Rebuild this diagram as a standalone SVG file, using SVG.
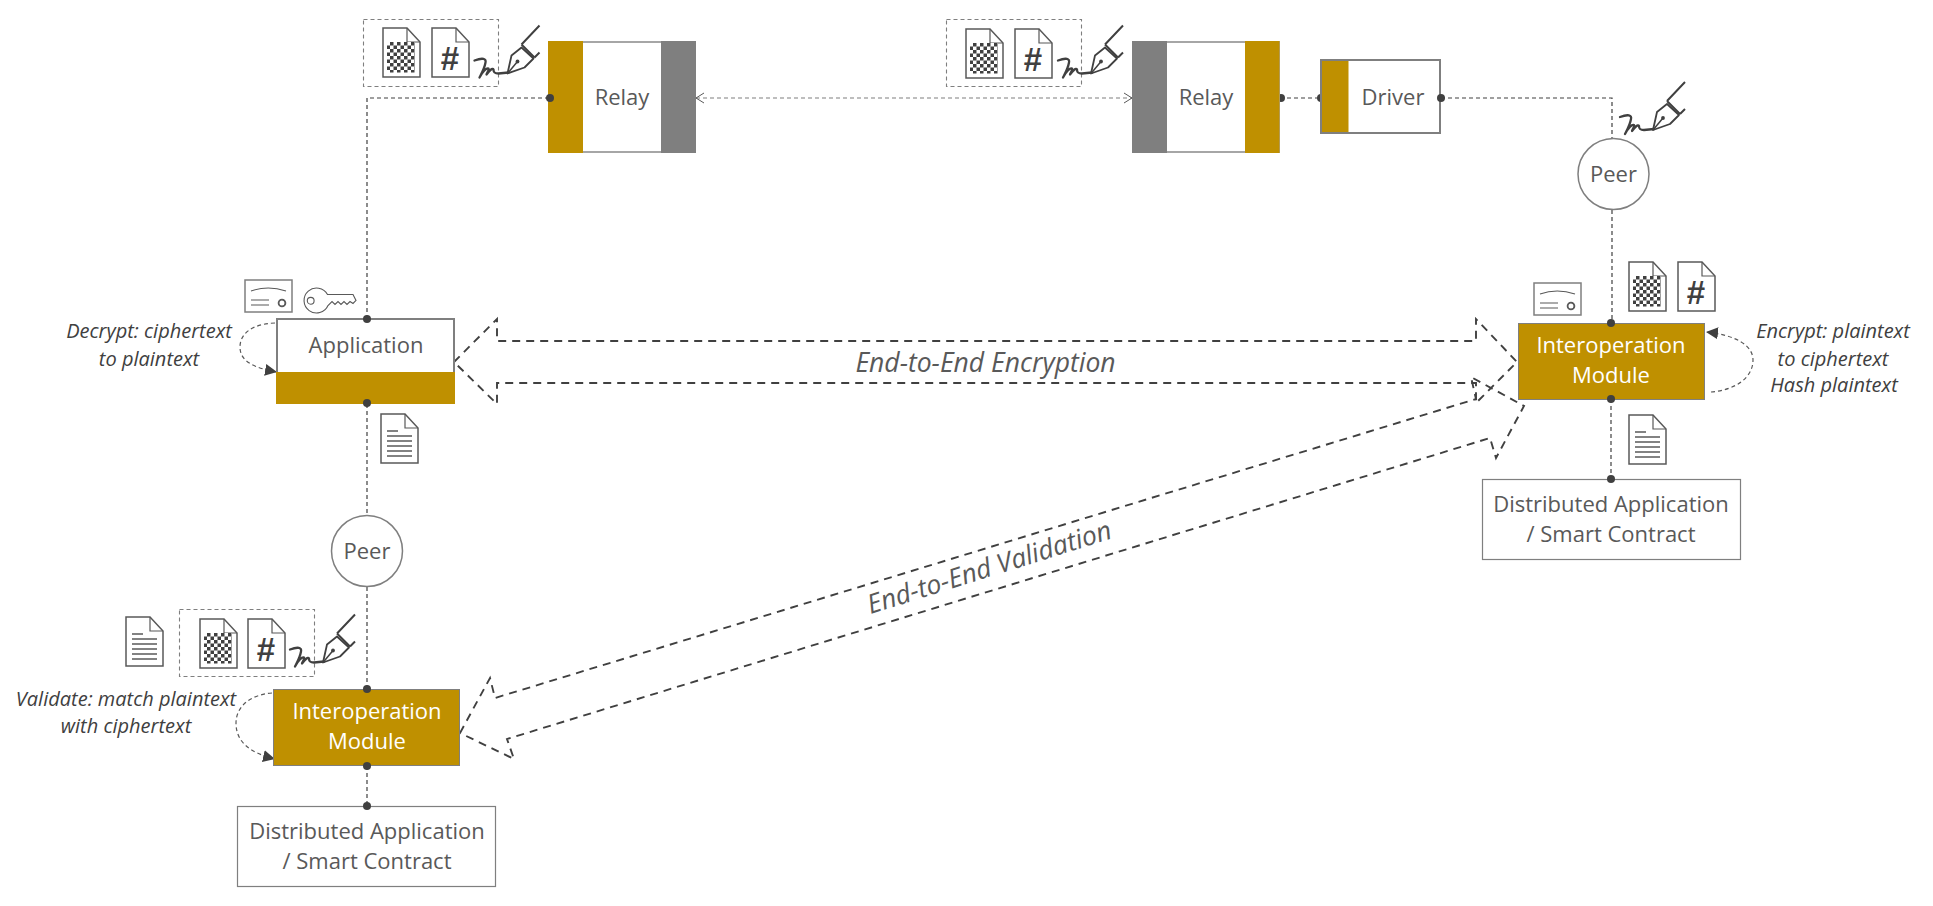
<svg xmlns="http://www.w3.org/2000/svg" width="1933" height="906" viewBox="0 0 1933 906">
<style>
text{font-family:"Open Sans","Noto Sans","Liberation Sans",sans-serif;text-anchor:middle}
.lbl{font-size:22px;fill:#595959}
.wht{font-size:22px;fill:#fff}
.it{font-size:20px;fill:#404040;font-style:italic}
.big{font-size:26.5px;fill:#595959;font-style:italic}
.gold{fill:#BF9000}
.grey{fill:#7F7F7F}
.fine{fill:none;stroke:#404040;stroke-width:1.2;stroke-dasharray:4 3}
.loop{fill:none;stroke:#595959;stroke-width:1.2;stroke-dasharray:4 3}
.bigline{fill:none;stroke:#404040;stroke-width:1.9;stroke-dasharray:8 6}
.dot{fill:#404040}
.ink{fill:none;stroke:#595959;stroke-width:1.4}
.dk{fill:none;stroke:#404040;stroke-width:2.3;stroke-linecap:round;stroke-linejoin:round}
.box{fill:none;stroke:#7F7F7F;stroke-width:1.1;stroke-dasharray:4 3}
</style>
<defs>
<pattern id="chk" width="7" height="7" patternUnits="userSpaceOnUse">
<rect width="7" height="7" fill="#fff"/><rect width="3.5" height="3.5" fill="#404040"/><rect x="3.5" y="3.5" width="3.5" height="3.5" fill="#404040"/>
</pattern>
<marker id="tri" markerUnits="userSpaceOnUse" markerWidth="14" markerHeight="14" refX="12" refY="7" orient="auto"><path d="M0,1 L12,7 L0,13 Z" fill="#404040"/></marker>
<marker id="open" markerUnits="userSpaceOnUse" markerWidth="12" markerHeight="12" refX="10" refY="6" orient="auto-start-reverse"><path d="M2,1 L10,6 L2,11" fill="none" stroke="#595959" stroke-width="1"/></marker>
<g id="page"><path d="M0,0H24L37,14V49H0Z" fill="#fff" stroke="#595959" stroke-width="1.5"/><path d="M24,0V14H37" fill="none" stroke="#595959" stroke-width="1.2"/></g>
<g id="docEnc"><use href="#page"/><rect x="4" y="14" width="28" height="30.5" fill="url(#chk)"/></g>
<g id="docHash"><use href="#page"/><text x="18" y="42" style="font-family:'Liberation Sans',sans-serif;font-size:33px;font-weight:700;fill:#404040">#</text></g>
<g id="docText"><use href="#page"/><path d="M6,17H17M6,22H31M6,27H31M6,32H31M6,37H31M6,42H31" class="ink"/></g>
<g id="cert"><rect x="0" y="0" width="47" height="32" fill="#fff" stroke="#7F7F7F" stroke-width="1.5"/><path d="M6,11Q23,5 41,11M6,20H24M6,25H24" fill="none" stroke="#595959" stroke-width="1.1"/><circle cx="37" cy="23" r="3.4" fill="none" stroke="#595959" stroke-width="1.8"/></g>
<g id="key"><path d="M24.5,6H50L53,12L50,15L47,13L44,16L41,13L38,16L35,13L32,16L29,13L25,17A12.5,12.5 0 1 1 24.5,6Z" fill="#fff" stroke="#595959" stroke-width="1.1"/><circle cx="7.7" cy="12.3" r="3.4" fill="none" stroke="#595959" stroke-width="1.1"/></g>
<g id="sign"><path d="M0,0C8,-3 12,-2 11,2C10,8 7,13 5,17C8,11 12,7 14,8C15,9 12,13 12,14C15,10 18,7 19,9C19,12 20,13 24,13L34,12" class="dk"/><path d="M33,13L37,-5L47,-13L59,-2L50,7Z" fill="#fff" stroke="#404040" stroke-width="1.8" stroke-linejoin="round"/><path d="M33,13L43,1" fill="none" stroke="#404040" stroke-width="1.5"/><circle cx="43" cy="1" r="1.9" fill="#404040"/><path d="M47,-16L60,-3M47,-16L65,-35M60,-3L65,-8" fill="none" stroke="#404040" stroke-width="2"/></g>
</defs>
<rect width="1933" height="906" fill="#fff"/>

<g id="connectors">
<path class="fine" d="M367,319V98H550"/>
<path d="M696,98H1132" fill="none" stroke="#7F7F7F" stroke-width="1.2" stroke-dasharray="4 3" marker-start="url(#open)" marker-end="url(#open)"/>
<path class="fine" d="M1280,98H1321"/>
<path class="fine" d="M1441,98H1612V138"/>
<path class="fine" d="M1612,210V323"/>
<path class="fine" d="M1611,399V479"/>
<path class="fine" d="M367,404V515"/>
<path class="fine" d="M367,587V689"/>
<path class="fine" d="M367,766V806"/>
<path class="bigline" d="M454,362L497,319V341H1476V319L1517,362L1476,403V383H497V404Z"/>
<path class="bigline" d="M460,733L490,678L495,698L1476,399L1471,377L1524,406L1496,458L1490,438L507,739L514,759Z"/>
<path class="loop" marker-end="url(#tri)" d="M275,323C250,324 240,335 240,347C240,362 255,368 277,372"/>
<path class="loop" marker-end="url(#tri)" d="M1711,392C1735,390 1753,378 1753,360C1753,345 1735,335 1706,332"/>
<path class="loop" marker-end="url(#tri)" d="M272,693C248,695 236,708 236,723C236,742 250,753 275,759"/>
<circle class="dot" cx="1281" cy="98" r="4"/>
<circle class="dot" cx="1321" cy="98" r="4"/>
</g>

<g id="relay-left"><rect x="549" y="42" width="146" height="110" fill="#fff" stroke="#A6A6A6" stroke-width="2"/><rect class="gold" x="548" y="41" width="35" height="112"/><rect class="grey" x="661" y="41" width="35" height="112"/><text class="lbl" x="622" y="105">Relay</text><circle class="dot" cx="550" cy="98" r="4"/></g>
<g id="relay-right"><rect x="1133" y="42" width="146" height="110" fill="#fff" stroke="#A6A6A6" stroke-width="2"/><rect class="grey" x="1132" y="41" width="35" height="112"/><rect class="gold" x="1245" y="41" width="34.500" height="112"/><text class="lbl" x="1206" y="105">Relay</text></g>
<g id="driver"><rect x="1321" y="60" width="119" height="73" fill="#fff" stroke="#7F7F7F" stroke-width="2"/><rect class="gold" x="1322" y="61" width="26.500" height="71"/><text class="lbl" x="1393" y="105">Driver</text><circle class="dot" cx="1441" cy="98" r="4"/></g>
<g id="peer-right"><circle cx="1613.500" cy="174" r="35.500" fill="#fff" stroke="#7F7F7F" stroke-width="1.5"/><text class="lbl" x="1613.500" y="182">Peer</text></g>
<g id="peer-left"><circle cx="367" cy="551" r="35.500" fill="#fff" stroke="#7F7F7F" stroke-width="1.5"/><text class="lbl" x="367" y="559">Peer</text></g>

<g id="application"><rect x="277" y="319" width="177" height="84" fill="#fff" stroke="#7F7F7F" stroke-width="2"/><rect class="gold" x="276" y="372" width="179" height="32"/><text class="lbl" x="366" y="353">Application</text><circle class="dot" cx="367" cy="319" r="4"/><circle class="dot" cx="367" cy="403" r="4"/></g>
<g id="module-right"><rect class="gold" x="1518.500" y="323.500" width="186" height="76" stroke="#7F7F7F"/><text class="wht" x="1611" y="353">Interoperation</text><text class="wht" x="1611" y="383">Module</text><circle class="dot" cx="1611" cy="323" r="4"/><circle class="dot" cx="1611" cy="399" r="4"/></g>
<g id="module-left"><rect class="gold" x="273.500" y="689.500" width="186" height="76" stroke="#7F7F7F"/><text class="wht" x="367" y="719">Interoperation</text><text class="wht" x="367" y="749">Module</text><circle class="dot" cx="367" cy="689" r="4"/><circle class="dot" cx="367" cy="766" r="4"/></g>
<g id="dapp-right"><rect x="1482.500" y="479.500" width="258" height="80" fill="#fff" stroke="#7F7F7F" stroke-width="1.2"/><text class="lbl" x="1611" y="512">Distributed Application</text><text class="lbl" x="1611" y="542">/ Smart Contract</text><circle class="dot" cx="1611" cy="479" r="4"/></g>
<g id="dapp-left"><rect x="237.500" y="806.500" width="258" height="80" fill="#fff" stroke="#7F7F7F" stroke-width="1.2"/><text class="lbl" x="367" y="839">Distributed Application</text><text class="lbl" x="367" y="869">/ Smart Contract</text><circle class="dot" cx="367" cy="806" r="4"/></g>

<g id="note-decrypt"><text class="it" x="149" y="338">Decrypt: ciphertext</text><text class="it" x="149" y="366">to plaintext</text></g>
<g id="note-encrypt"><text class="it" x="1833" y="338">Encrypt: plaintext</text><text class="it" x="1833" y="366">to ciphertext</text><text class="it" x="1834" y="392">Hash plaintext</text></g>
<g id="note-validate"><text class="it" x="126" y="706">Validate: match plaintext</text><text class="it" x="126" y="733">with ciphertext</text></g>
<g id="label-encryption"><text class="big" x="985.500" y="372">End-to-End Encryption</text></g>
<g id="label-validation"><text class="big" transform="translate(992,576) rotate(-17.4)">End-to-End Validation</text></g>

<g id="bundle-relay-left"><rect class="box" x="363.500" y="19.500" width="135" height="67"/><use href="#docEnc" x="383" y="28"/><use href="#docHash" x="432" y="28"/><use href="#sign" x="474.500" y="60.500"/></g>
<g id="bundle-relay-right"><rect class="box" x="946.500" y="19.500" width="135" height="67"/><use href="#docEnc" x="966" y="29"/><use href="#docHash" x="1015" y="29"/><use href="#sign" x="1058" y="60.500"/></g>
<g id="bundle-peer-left"><rect class="box" x="179.500" y="609.500" width="135" height="67"/><use href="#docEnc" x="200" y="619"/><use href="#docHash" x="248" y="619"/><use href="#sign" x="290" y="649.500"/></g>
<g id="doc-left"><use href="#docText" x="126" y="617"/></g>
<g id="sign-peer-right"><use href="#sign" x="1620" y="117"/></g>
<g id="icons-application"><use href="#cert" x="245" y="280"/><use href="#key" x="303" y="288.500"/><use href="#docText" x="381" y="414"/></g>
<g id="icons-module-right"><use href="#cert" x="1534" y="283"/><use href="#docEnc" x="1629" y="262"/><use href="#docHash" x="1678" y="262"/><use href="#docText" x="1629" y="415"/></g>
</svg>
